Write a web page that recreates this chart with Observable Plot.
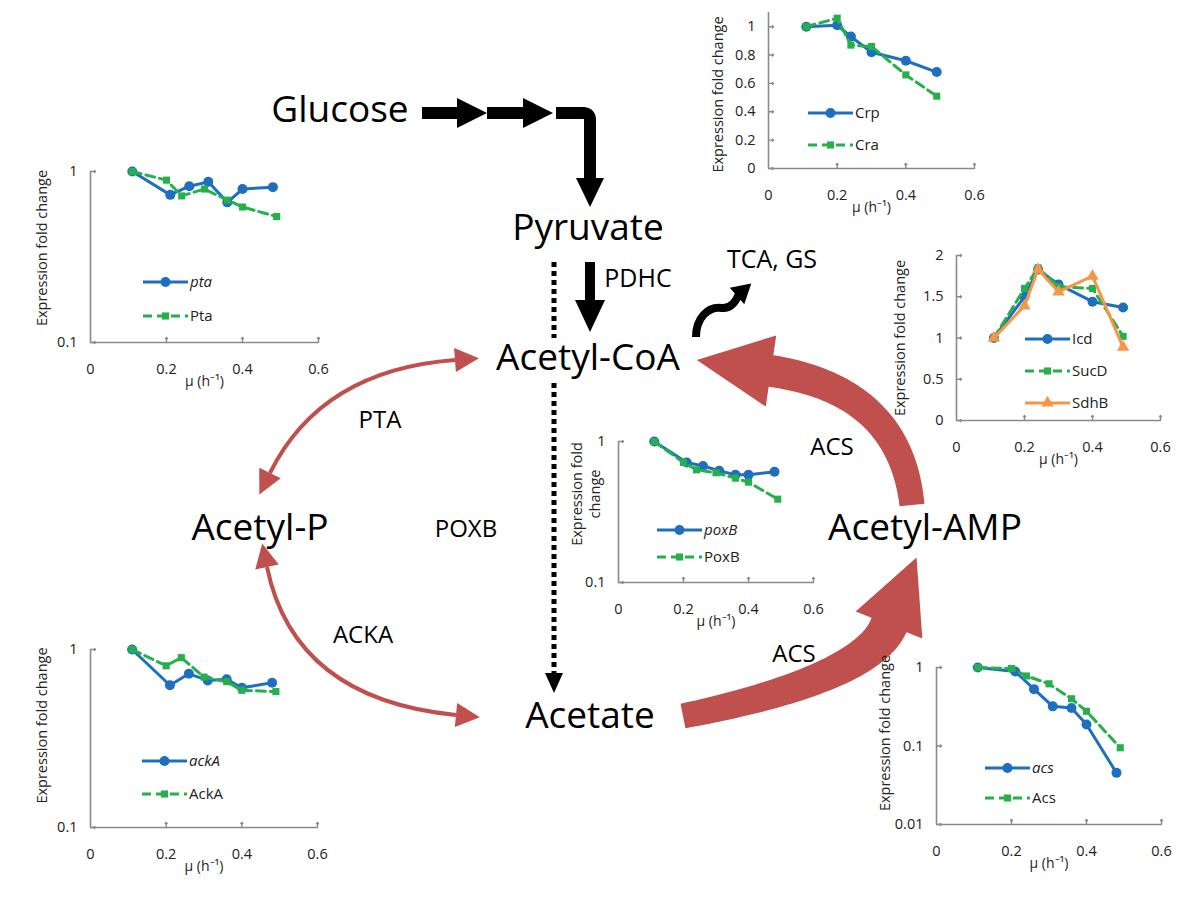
<!DOCTYPE html>
<html><head><meta charset="utf-8">
<script src="https://cdn.jsdelivr.net/npm/d3@7"></script>
<script src="https://cdn.jsdelivr.net/npm/@observablehq/plot@0.6"></script>
<style>
body{margin:0;background:#fff;}
#page{position:relative;width:1200px;height:900px;overflow:hidden;font-family:"Open Sans",sans-serif;background:#fff;}
#page svg{position:absolute;}
</style></head><body><div id="page"></div>
<script>
// ================= DATA =================
const xTicks = [0, 0.2, 0.4, 0.6];
const yTicksCrp = [0, 0.2, 0.4, 0.6, 0.8, 1];
const yTicksTca = [0, 0.5, 1, 1.5, 2];
const yTicksLog1 = [0.1, 1];
const yTicksLog2 = [0.01, 0.1, 1];

const crpMu  = [0.11, 0.20, 0.24, 0.30, 0.40, 0.49];
const crpVal = [1.00, 1.01, 0.93, 0.82, 0.76, 0.68];
const craMu  = [0.11, 0.20, 0.24, 0.30, 0.40, 0.49];
const craVal = [1.00, 1.06, 0.87, 0.86, 0.66, 0.51];

const ptaGeneMu  = [0.11, 0.21, 0.26, 0.31, 0.36, 0.40, 0.48];
const ptaGeneVal = [1.00, 0.73, 0.82, 0.87, 0.66, 0.79, 0.81];
const ptaProtMu  = [0.11, 0.20, 0.24, 0.30, 0.36, 0.40, 0.49];
const ptaProtVal = [1.00, 0.89, 0.72, 0.79, 0.68, 0.62, 0.545];

const icdMu   = [0.11, 0.20, 0.24, 0.30, 0.40, 0.49];
const icdVal  = [1.00, 1.50, 1.83, 1.65, 1.44, 1.37];
const sucdMu  = [0.11, 0.20, 0.24, 0.30, 0.40, 0.49];
const sucdVal = [1.00, 1.60, 1.85, 1.62, 1.60, 1.02];
const sdhbMu  = [0.11, 0.20, 0.24, 0.30, 0.40, 0.49];
const sdhbVal = [1.00, 1.39, 1.83, 1.56, 1.75, 0.89];

const poxbGeneMu  = [0.11, 0.21, 0.26, 0.31, 0.36, 0.40, 0.48];
const poxbGeneVal = [1.00, 0.71, 0.67, 0.62, 0.58, 0.58, 0.61];
const poxbProtMu  = [0.11, 0.20, 0.24, 0.30, 0.36, 0.40, 0.49];
const poxbProtVal = [1.00, 0.71, 0.63, 0.60, 0.55, 0.515, 0.39];

const ackaGeneMu  = [0.11, 0.21, 0.26, 0.31, 0.36, 0.40, 0.48];
const ackaGeneVal = [1.00, 0.63, 0.73, 0.67, 0.68, 0.61, 0.65];
const ackaProtMu  = [0.11, 0.20, 0.24, 0.30, 0.36, 0.40, 0.49];
const ackaProtVal = [1.00, 0.81, 0.90, 0.70, 0.66, 0.59, 0.58];

const acsGeneMu  = [0.11, 0.21, 0.26, 0.31, 0.36, 0.40, 0.48];
const acsGeneVal = [1.00, 0.89, 0.53, 0.32, 0.305, 0.188, 0.0455];
const acsProtMu  = [0.11, 0.20, 0.24, 0.30, 0.36, 0.40, 0.49];
const acsProtVal = [1.00, 0.97, 0.78, 0.62, 0.40, 0.277, 0.095];

const yTitle = "Expression fold change";
const yTitle2 = "Expression fold\nchange";
const xTitle = "μ (h⁻¹)";

const nodeLabels = [
  {t: "Glucose", x: 340, y: 122, s: 37},
  {t: "Pyruvate", x: 588, y: 240, s: 37},
  {t: "Acetyl-CoA", x: 588, y: 370, s: 37},
  {t: "Acetyl-P", x: 260, y: 540, s: 37},
  {t: "Acetate", x: 590, y: 728, s: 37},
  {t: "Acetyl-AMP", x: 925, y: 540, s: 37},
  {t: "TCA, GS", x: 772, y: 268, s: 25},
  {t: "PDHC", x: 638, y: 287, s: 25},
  {t: "PTA", x: 380, y: 428, s: 24},
  {t: "ACKA", x: 363, y: 643, s: 24},
  {t: "POXB", x: 466, y: 537, s: 24},
  {t: "ACS", x: 832, y: 455, s: 24},
  {t: "ACS", x: 794, y: 662, s: 24}
];

// ================= STYLES =================
const BLUE = "#1f6fbf", GREEN = "#25b04b", ORANGE = "#f79646", RED = "#c0504d", GRAY = "#8a8a8a";
const FONT = "'Open Sans', sans-serif";
const STY = {
  blue:   {color: BLUE, symbol: "circle", r: 5, dash: null},
  green:  {color: GREEN, symbol: "square", r: 4, dash: "9,5"},
  orange: {color: ORANGE, symbol: "triangle", r: 4.6, dash: null}
};

const page = d3.select("#page");

// ================= DIAGRAM (background) =================
const diag = page.append("svg").attr("width", 1200).attr("height", 900).style("left", "0px").style("top", "0px");

function norm(v) { const l = Math.hypot(v[0], v[1]); return [v[0] / l, v[1] / l]; }
function headPts(base, dir, hl, hw) {
  const u = norm(dir), n = [-u[1], u[0]];
  return [[base[0] + n[0] * hw / 2, base[1] + n[1] * hw / 2], [base[0] + u[0] * hl, base[1] + u[1] * hl], [base[0] - n[0] * hw / 2, base[1] - n[1] * hw / 2]];
}
function poly(g, pts, fill) { g.append("polygon").attr("points", pts.map(p => p.join(",")).join(" ")).attr("fill", fill); }
function quad(p0, c, p1, t) { const m = 1 - t; return [m*m*p0[0] + 2*m*t*c[0] + t*t*p1[0], m*m*p0[1] + 2*m*t*c[1] + t*t*p1[1]]; }
function quadD(p0, c, p1, t) { return [2*(1-t)*(c[0]-p0[0]) + 2*t*(p1[0]-c[0]), 2*(1-t)*(c[1]-p0[1]) + 2*t*(p1[1]-c[1])]; }
function bandArrow(g, p0, c, p1, w0, w1, hl, hw) {
  const L = [], R = [], n = 48;
  for (let i = 0; i <= n; i++) {
    const t = i / n, p = quad(p0, c, p1, t), u = norm(quadD(p0, c, p1, t)), nn = [-u[1], u[0]], w = (w0 + (w1 - w0) * t) / 2;
    L.push([p[0] + nn[0] * w, p[1] + nn[1] * w]); R.push([p[0] - nn[0] * w, p[1] - nn[1] * w]);
  }
  const h = headPts(p1, quadD(p0, c, p1, 1), hl, hw);
  poly(g, [...L, h[0], h[1], h[2], ...R.reverse()], RED);
}
function thinArrow(g, b0, c, b1) {
  g.append("path").attr("d", `M${b0}Q${c} ${b1}`).attr("fill", "none").attr("stroke", RED).attr("stroke-width", 4);
  poly(g, headPts(b0, [b0[0] - c[0], b0[1] - c[1]], 24, 24), RED);
  poly(g, headPts(b1, [b1[0] - c[0], b1[1] - c[1]], 24, 24), RED);
}

// red pathway arrows
bandArrow(diag, [912, 505], [900, 390], [771, 371], 25, 32, 75, 72);
bandArrow(diag, [683, 716], [867, 679], [889, 625], 25, 38, 73, 72);
thinArrow(diag, [455, 360], [321, 370], [270, 473]);
thinArrow(diag, [267, 567], [294, 699], [456, 715]);

// black arrows
diag.append("rect").attr("x", 422).attr("y", 107).attr("width", 37).attr("height", 12).attr("fill", "#000");
poly(diag, [[457, 98], [487, 113], [457, 128]], "#000");
diag.append("rect").attr("x", 487).attr("y", 107).attr("width", 37).attr("height", 12).attr("fill", "#000");
poly(diag, [[523, 98], [553, 113], [523, 128]], "#000");
diag.append("path").attr("d", "M556,113L583,113Q590,113 590,120L590,180").attr("fill", "none").attr("stroke", "#000").attr("stroke-width", 12);
poly(diag, [[576, 178], [604, 178], [590, 207]], "#000");
diag.append("rect").attr("x", 585).attr("y", 262).attr("width", 10).attr("height", 40).attr("fill", "#000");
poly(diag, [[575, 300], [605, 300], [590, 332]], "#000");
diag.append("line").attr("x1", 554).attr("x2", 554).attr("y1", 262).attr("y2", 338).attr("stroke", "#000").attr("stroke-width", 5).attr("stroke-dasharray", "5,4");
diag.append("line").attr("x1", 554).attr("x2", 554).attr("y1", 383).attr("y2", 674).attr("stroke", "#000").attr("stroke-width", 5).attr("stroke-dasharray", "5,4");
poly(diag, [[545, 673], [563, 673], [554, 693]], "#000");
diag.append("path").attr("d", "M696,337C696,318 708,306 722,308C731,309 736,301 739,294").attr("fill", "none").attr("stroke", "#000").attr("stroke-width", 8);
poly(diag, headPts([737, 296], [0.75, -0.66], 19, 22), "#000");

diag.selectAll("text.node").data(nodeLabels).join("text")
  .attr("x", d => d.x).attr("y", d => d.y).attr("text-anchor", "middle")
  .attr("font-family", FONT).attr("font-size", d => d.s).attr("fill", "#000").text(d => d.t);

// ================= CHARTS =================
const rows = (mu, val) => mu.map((m, i) => ({mu: m, v: val[i]}));

const charts = [
  {left: 768, top: 12, w: 206, h: 156, type: "linear", domain: [0, 1.1], yticks: yTicksCrp, title: yTitle, tdx: -51, tdy: 4,
   series: [["blue", crpMu, crpVal, "Crp", false], ["green", craMu, craVal, "Cra", false]], leg: [808, 113, 32]},
  {left: 90, top: 171, w: 228, h: 171, type: "log", domain: [0.1, 1], yticks: yTicksLog1, title: yTitle, tdx: -49, tdy: -9,
   series: [["blue", ptaGeneMu, ptaGeneVal, "pta", true], ["green", ptaProtMu, ptaProtVal, "Pta", false]], leg: [143, 282, 34]},
  {left: 956, top: 255, w: 204, h: 165, type: "linear", domain: [0, 2], yticks: yTicksTca, title: yTitle, tdx: -57, tdy: 0,
   series: [["blue", icdMu, icdVal, "Icd", false], ["green", sucdMu, sucdVal, "SucD", false], ["orange", sdhbMu, sdhbVal, "SdhB", false]], leg: [1025, 339, 32]},
  {left: 618, top: 441, w: 195, h: 141, type: "log", domain: [0.1, 1], yticks: yTicksLog1, title: yTitle2, tdx: -33, tdy: -18,
   series: [["blue", poxbGeneMu, poxbGeneVal, "poxB", true], ["green", poxbProtMu, poxbProtVal, "PoxB", false]], leg: [657, 530, 27]},
  {left: 90, top: 649, w: 227, h: 178, type: "log", domain: [0.1, 1], yticks: yTicksLog1, title: yTitle, tdx: -49, tdy: -13,
   series: [["blue", ackaGeneMu, ackaGeneVal, "ackA", true], ["green", ackaProtMu, ackaProtVal, "AckA", false]], leg: [142, 761, 33]},
  {left: 936, top: 667, w: 225, h: 157, type: "log", domain: [0.01, 1], yticks: yTicksLog2, title: yTitle, tdx: -52, tdy: -13,
   series: [["blue", acsGeneMu, acsGeneVal, "acs", true], ["green", acsProtMu, acsProtVal, "Acs", false]], leg: [985, 768, 30]}
];

const mL = 75, mR = 20, mT = 12, mB = 55;
for (const c of charts) {
  const marks = [
    Plot.ruleX([0], {stroke: GRAY, strokeWidth: 1.6}),
    Plot.ruleY([c.domain[0]], {stroke: GRAY, strokeWidth: 1.6}),
    Plot.vector(xTicks.slice(1), {x: d => d, frameAnchor: "bottom", length: 5, rotate: 0, anchor: "start", stroke: GRAY, strokeWidth: 1.4}),
    Plot.vector(c.yticks, {y: d => d, frameAnchor: "left", length: 5, rotate: 90, anchor: "start", stroke: GRAY, strokeWidth: 1.4}),
    Plot.axisX({ticks: xTicks, tickSize: 0, tickPadding: 21, tickFormat: d => String(d), label: null, fontSize: 14.5}),
    Plot.axisY({ticks: c.yticks, tickSize: 0, tickPadding: 13, tickFormat: d => String(d), label: null, fontSize: 14.5}),
    Plot.text([c.title], {frameAnchor: "left", textAnchor: "middle", lineAnchor: "middle", rotate: -90, dx: c.tdx, dy: c.tdy, fontSize: 14.5, lineHeight: 1.2, fill: "#222"}),
    Plot.text([xTitle], {frameAnchor: "bottom", dy: 43, fontSize: 14, fill: "#222"})
  ];
  for (const [k, mu, val] of c.series) {
    const s = STY[k], data = rows(mu, val);
    marks.push(Plot.line(data, {x: "mu", y: "v", stroke: s.color, strokeWidth: 3, strokeDasharray: s.dash}));
    marks.push(Plot.dot(data, {x: "mu", y: "v", symbol: s.symbol, r: s.r, fill: s.color, stroke: "none"}));
  }
  const svg = Plot.plot({
    width: c.w + mL + mR, height: c.h + mT + mB,
    marginLeft: mL, marginRight: mR, marginTop: mT, marginBottom: mB,
    style: {background: "transparent", fontFamily: FONT, fontSize: "14.5px", color: "#222", overflow: "visible"},
    x: {domain: [0, 0.6]},
    y: {type: c.type, domain: c.domain},
    marks
  });
  svg.style.left = (c.left - mL) + "px";
  svg.style.top = (c.top - mT) + "px";
  page.node().appendChild(svg);
}

// ================= LEGENDS (overlay) =================
const overlay = page.append("svg").attr("width", 1200).attr("height", 900).style("left", "0px").style("top", "0px");
for (const c of charts) {
  const [x0, y0, dy] = c.leg;
  c.series.forEach(([k, mu, val, label, ital], i) => {
    const s = STY[k], y = y0 + i * dy;
    overlay.append("line").attr("x1", x0).attr("x2", x0 + 45).attr("y1", y).attr("y2", y)
      .attr("stroke", s.color).attr("stroke-width", 3).attr("stroke-dasharray", s.dash);
    const sym = {circle: d3.symbolCircle, square: d3.symbolSquare, triangle: d3.symbolTriangle}[s.symbol];
    overlay.append("path").attr("d", d3.symbol(sym, Math.PI * s.r * s.r)()).attr("transform", `translate(${x0 + 22.5},${y})`).attr("fill", s.color);
    overlay.append("text").attr("x", x0 + 47).attr("y", y + 5).attr("font-family", FONT).attr("font-size", 15)
      .attr("font-style", ital ? "italic" : "normal").attr("fill", "#222").text(label);
  });
}
</script></body></html>
